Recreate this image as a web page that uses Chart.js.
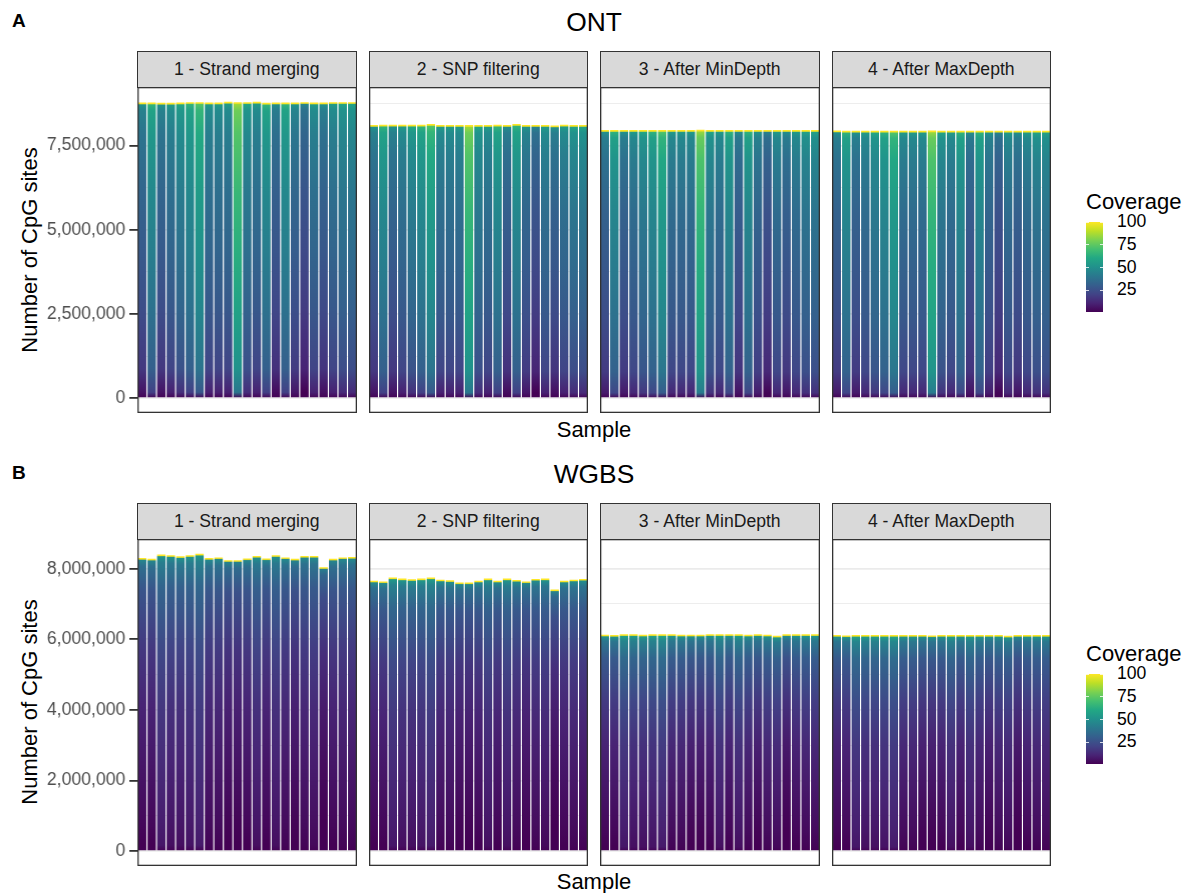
<!DOCTYPE html>
<html>
<head>
<meta charset="utf-8">
<script src="https://cdn.jsdelivr.net/npm/chart.js@4.4.1/dist/chart.umd.min.js"></script>
<style>
  body { margin: 0; background: #fff; font-family: "Liberation Sans", Arial, Helvetica, sans-serif; }
  #page { position: relative; width: 1193px; height: 893px; overflow: hidden; background: #fff; }
  .txt { position: absolute; white-space: nowrap; line-height: 1; }
  .strip { position: absolute; box-sizing: border-box; background: #d9d9d9; border: 1.3px solid #333;
           font-size: 17.6px; color: #1a1a1a; display: flex; align-items: center; justify-content: center; }
  canvas { position: absolute; }
</style>
</head>
<body>
<div id="page"></div>
<script>
// facet titles and samples
const panelNames = ['1 - Strand merging', '2 - SNP filtering', '3 - After MinDepth', '4 - After MaxDepth'];
const samples = ['S01','S02','S03','S04','S05','S06','S07','S08','S09','S10','S11','S12',
                 'S13','S14','S15','S16','S17','S18','S19','S20','S21','S22','S23'];

// number of CpG sites per sample (millions)
const ontStrandMerging = [8.78, 8.78, 8.77, 8.77, 8.78, 8.79, 8.79, 8.78, 8.78, 8.80, 8.79, 8.79,
                          8.80, 8.77, 8.78, 8.78, 8.78, 8.79, 8.78, 8.78, 8.79, 8.79, 8.79];
const ontSnpFiltering  = [8.11, 8.12, 8.12, 8.12, 8.12, 8.12, 8.14, 8.11, 8.11, 8.11, 8.11, 8.11,
                          8.11, 8.12, 8.11, 8.14, 8.11, 8.11, 8.11, 8.10, 8.12, 8.11, 8.11];
const ontMinDepth      = [7.96, 7.96, 7.96, 7.96, 7.96, 7.96, 7.96, 7.96, 7.96, 7.96, 7.97, 7.96,
                          7.96, 7.96, 7.96, 7.96, 7.96, 7.96, 7.96, 7.96, 7.96, 7.96, 7.96];
const ontMaxDepth      = [7.95, 7.94, 7.94, 7.94, 7.94, 7.94, 7.94, 7.94, 7.94, 7.94, 7.95, 7.94,
                          7.94, 7.94, 7.94, 7.94, 7.94, 7.94, 7.94, 7.94, 7.94, 7.94, 7.94];

const wgbsStrandMerging = [8.30, 8.28, 8.40, 8.38, 8.35, 8.38, 8.42, 8.30, 8.32, 8.24, 8.24, 8.29,
                           8.36, 8.29, 8.38, 8.32, 8.28, 8.36, 8.36, 8.04, 8.28, 8.32, 8.33];
const wgbsSnpFiltering  = [7.66, 7.64, 7.75, 7.72, 7.70, 7.72, 7.75, 7.69, 7.67, 7.61, 7.61, 7.66,
                           7.72, 7.66, 7.72, 7.68, 7.64, 7.71, 7.72, 7.41, 7.66, 7.69, 7.71];
const wgbsMinDepth      = [6.13, 6.12, 6.14, 6.14, 6.13, 6.14, 6.14, 6.14, 6.13, 6.13, 6.13, 6.14,
                           6.14, 6.14, 6.14, 6.13, 6.14, 6.13, 6.10, 6.14, 6.14, 6.14, 6.14];
const wgbsMaxDepth      = [6.12, 6.11, 6.12, 6.12, 6.12, 6.12, 6.12, 6.12, 6.12, 6.12, 6.11, 6.12,
                           6.12, 6.12, 6.12, 6.12, 6.12, 6.12, 6.10, 6.12, 6.12, 6.12, 6.12];

// coverage inside each bar: quantiles of coverage at these fractions of the bar height
const quantFrac = [0, 0.02, 0.1, 0.3, 0.5, 0.7, 0.9, 0.98, 1];
const ontQuantiles = [
  [1, 10, 21, 28, 33, 37, 43, 48, 55],
  [1, 10, 21, 28, 33, 37, 43, 48, 55],
  [1, 12, 22, 28, 32, 36, 42, 47, 54],
  [1, 12, 22, 28, 32, 36, 42, 47, 54],
];
const wgbsQuantiles = [
  [1, 2, 4, 8, 12, 18, 28, 38, 47],
  [1, 2, 4, 8, 12, 18, 29, 39, 49],
  [1, 2, 4, 8, 12, 19, 30, 41, 52],
  [1, 2, 4, 8, 12, 19, 30, 41, 52],
];
// per-sample coverage offset (coverage units)
const ontShift  = [-4, 10, -4, 0, 5, 10, 18, 0, 0, 0, 30, 4, 0, 10, -6, 10, -3, -10, 0, -5, 0, 3, 3];
const wgbsShift = [-1, -1, 5, 3, 3, 4, 6, 0, 0, -2, -2, -1, 3, -1, 3, 0, -2, 0, 1, -4, -1, 0, 0];
// sites at coverage 100+ (millions), the yellow top of every bar
const ontCapSites = 0.07;
const wgbsCapSites = 0.06;

const ontMajorTicks = [0, 2500000, 5000000, 7500000];
const ontMinorTicks = [1250000, 3750000, 6250000, 8750000];
const wgbsMajorTicks = [0, 2000000, 4000000, 6000000, 8000000];
const wgbsMinorTicks = [1000000, 3000000, 5000000, 7000000];

const coverageRange = [1, 100];
const legendTicks = [25, 50, 75, 100];

// ─────────────────────────────────────────────────────────────
const FONT = '"Liberation Sans", Arial, Helvetica, sans-serif';
const VIRIDIS = ['#440154', '#482475', '#414487', '#355f8d', '#2a788e', '#21918c',
                 '#22a884', '#44bf70', '#7ad151', '#bddf26', '#fde725'];

const hex = (h) => [1, 3, 5].map((i) => parseInt(h.slice(i, i + 2), 16));
function viridis(c) {
  let t = (c - coverageRange[0]) / (coverageRange[1] - coverageRange[0]);
  t = Math.max(0, Math.min(1, t)) * (VIRIDIS.length - 1);
  const i = Math.min(Math.floor(t), VIRIDIS.length - 2), f = t - i;
  const a = hex(VIRIDIS[i]), b = hex(VIRIDIS[i + 1]);
  return 'rgb(' + a.map((v, k) => Math.round(v + (b[k] - v) * f)).join(',') + ')';
}

const page = document.getElementById('page');
function addText(text, x, y, css, anchor) {
  const d = document.createElement('div');
  d.className = 'txt';
  d.textContent = text;
  Object.assign(d.style, css);
  d.style.left = x + 'px';
  d.style.top = y + 'px';
  d.style.transform = anchor || 'translate(-50%, -50%)';
  page.appendChild(d);
  return d;
}

// theme_bw style border round each panel
const panelFrame = {
  id: 'panelFrame',
  afterDraw(chart) {
    const a = chart.chartArea, c = chart.ctx;
    c.save();
    c.strokeStyle = '#333';
    c.lineWidth = 1.3;
    c.strokeRect(a.left + 0.65, a.top + 0.65, a.right - a.left - 1.3, a.bottom - a.top - 1.3);
    c.restore();
  },
};

const PANEL_LEFT = [137, 368.5, 600, 831.5];
const PANEL_W = 219.5;

const rows = [
  { tag: 'A', title: 'ONT', top: 0,
    totals: [ontStrandMerging, ontSnpFiltering, ontMinDepth, ontMaxDepth],
    quant: ontQuantiles, shift: ontShift, cap: ontCapSites,
    major: ontMajorTicks, minor: ontMinorTicks,
    stripTop: 51, panelTop: 87, panelBottom: 413 },
  { tag: 'B', title: 'WGBS', top: 452,
    totals: [wgbsStrandMerging, wgbsSnpFiltering, wgbsMinDepth, wgbsMaxDepth],
    quant: wgbsQuantiles, shift: wgbsShift, cap: wgbsCapSites,
    major: wgbsMajorTicks, minor: wgbsMinorTicks,
    stripTop: 503, panelTop: 538.5, panelBottom: 866 },
];

// vertical viridis gradient per bar: coverage quantiles from bottom, yellow 100+ cap on top
function barFill(row, p) {
  return (ctx) => {
    const chart = ctx.chart;
    if (!chart.chartArea || ctx.type !== 'data') return '#21918c';
    const y = chart.scales.y;
    const total = ctx.raw;
    const y0 = y.getPixelForValue(0), y1 = y.getPixelForValue(total);
    const g = chart.ctx.createLinearGradient(0, y0, 0, y1);
    const capFrac = Math.min(row.cap * 1e6 / total, 0.5);
    const q = row.quant[p], s = row.shift[ctx.dataIndex];
    quantFrac.forEach((f, k) => {
      g.addColorStop(f * (1 - capFrac), viridis(k === 0 ? q[0] : q[k] + s));
    });
    g.addColorStop(1 - capFrac * 0.45, viridis(100));
    g.addColorStop(1, viridis(100));
    return g;
  };
}

rows.forEach((row) => {
  const maxTotal = Math.max(...row.totals.flat()) * 1e6;
  const yMin = -0.05 * maxTotal, yMax = 1.05 * maxTotal;
  const allTicks = [...row.major, ...row.minor].sort((a, b) => a - b);
  const isMajor = (v) => row.major.includes(v);
  const ph = row.panelBottom - row.panelTop;

  addText(row.tag, 12, row.top + 11, { fontSize: '19px', fontWeight: 'bold', color: '#000' }, 'none');
  addText(row.title, 594, row.top + 22, { fontSize: '26.4px', color: '#000' });
  addText('Sample', 594, row.top + 430, { fontSize: '22px', color: '#000' });
  addText('Number of CpG sites', 30, (row.panelTop + row.panelBottom) / 2,
          { fontSize: '22px', color: '#000' }, 'translate(-50%, -50%) rotate(-90deg)');

  row.totals.forEach((vals, p) => {
    const strip = document.createElement('div');
    strip.className = 'strip';
    strip.textContent = panelNames[p];
    Object.assign(strip.style, {
      left: PANEL_LEFT[p] + 'px', top: row.stripTop + 'px',
      width: PANEL_W + 'px', height: (row.panelTop - row.stripTop + 1) + 'px',
    });
    page.appendChild(strip);

    const withAxis = p === 0;
    const cv = document.createElement('canvas');
    const left = withAxis ? 0 : PANEL_LEFT[p];
    const w = withAxis ? PANEL_LEFT[0] + PANEL_W : PANEL_W;
    cv.width = w; cv.height = ph;
    cv.style.left = left + 'px'; cv.style.top = row.panelTop + 'px';
    cv.style.width = w + 'px'; cv.style.height = ph + 'px';
    page.appendChild(cv);

    new Chart(cv, {
      type: 'bar',
      data: {
        labels: samples,
        datasets: [{
          data: vals.map((v) => v * 1e6),
          backgroundColor: barFill(row, p),
          borderWidth: 0,
          categoryPercentage: 1,
          barPercentage: 0.88,
        }],
      },
      options: {
        responsive: false,
        animation: false,
        devicePixelRatio: 1,
        layout: { padding: 0, autoPadding: false },
        plugins: { legend: { display: false }, tooltip: { enabled: false } },
        scales: {
          x: { display: false, offset: true, grid: { display: false } },
          y: {
            min: yMin, max: yMax,
            afterFit: (s) => {
              s.width = withAxis ? PANEL_LEFT[0] : 0;
              s.paddingTop = 0; s.paddingBottom = 0;
            },
            afterBuildTicks: (s) => { s.ticks = allTicks.map((v) => ({ value: v })); },
            ticks: {
              display: withAxis, autoSkip: false, padding: 4, color: '#4d4d4d',
              font: { size: 17.6, family: FONT },
              callback: (v) => (isMajor(v) ? v.toLocaleString('en-US') : ''),
            },
            grid: {
              color: '#ebebeb',
              lineWidth: (c) => (c.tick && isMajor(c.tick.value) ? 1.8 : 0.9),
              drawTicks: withAxis,
              tickLength: 8,
              tickWidth: 1.8,
              tickColor: (c) => (c.tick && isMajor(c.tick.value) ? '#333' : 'rgba(0,0,0,0)'),
            },
            border: { display: false },
          },
        },
      },
      plugins: [panelFrame],
    });
  });

  // colour bar legend
  const lt = row.top + 222.3, lh = 89.7, lx = 1086, lw = 17;
  addText('Coverage', lx, row.top + 201.5, { fontSize: '22px', color: '#000' }, 'translate(0, -50%)');
  const bar = document.createElement('div');
  Object.assign(bar.style, {
    position: 'absolute', left: lx + 'px', top: lt + 'px', width: lw + 'px', height: lh + 'px',
    background: 'linear-gradient(to top, ' + VIRIDIS.join(', ') + ')',
  });
  page.appendChild(bar);
  legendTicks.forEach((c) => {
    const ty = lt + (coverageRange[1] - c) / (coverageRange[1] - coverageRange[0]) * lh;
    [lx, lx + lw - 3.4].forEach((tx) => {
      const m = document.createElement('div');
      Object.assign(m.style, { position: 'absolute', left: tx + 'px', top: (ty - 0.5) + 'px',
                               width: '3.4px', height: '1px', background: 'rgba(255,255,255,0.8)' });
      page.appendChild(m);
    });
    addText(String(c), 1117, ty, { fontSize: '17.6px', color: '#000' }, 'translate(0, -50%)');
  });
});
</script>
</body>
</html>
